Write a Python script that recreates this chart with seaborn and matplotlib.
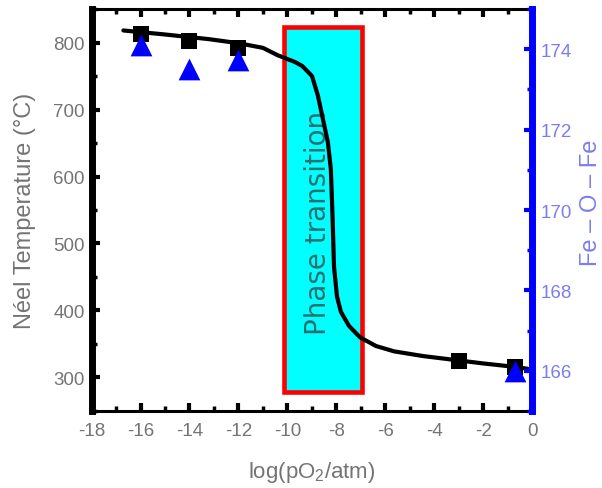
import matplotlib
matplotlib.use("Agg")
import matplotlib.pyplot as plt
import seaborn as sns
import pandas as pd
from matplotlib.patches import Rectangle
from matplotlib.ticker import MultipleLocator

# ---- data ----
pO2_neel = [-16, -14, -12, -3, -0.7]
neel_T = [813, 802, 792, 324, 316]

pO2_angle = [-16, -14, -12, -0.7]
fe_o_fe = [174.1, 173.5, 173.73, 166.0]

fit_x = [-16.7, -15.0, -13.2, -12.0, -11.0, -10.4, -9.7, -9.4, -9.0, -8.76, -8.55,
         -8.35, -8.23, -8.16, -8.10, -7.98, -7.82, -7.49, -7.04, -6.39, -5.65,
         -4.47, -2.02, -0.76, -0.2]
fit_y = [818, 812, 805, 799, 792, 781, 771, 765, 750, 721, 685,
         651, 611, 539, 465, 421, 398, 377, 360, 347, 339,
         332, 321, 316, 313]

box_x = [-10.16, -6.94]
box_y = [279, 823]
box_text = "Phase transition"

x_label = "log(pO$_2$/atm)"
y_label = "Néel Temperature (°C)"
y2_label = "Fe – O – Fe"

sns.set_theme(style="ticks")
plt.rcParams["font.family"] = ["Liberation Sans", "DejaVu Sans"]
plt.rcParams["axes.unicode_minus"] = False
plt.rcParams["mathtext.fontset"] = "custom"
plt.rcParams["mathtext.rm"] = "Liberation Sans"
plt.rcParams["mathtext.it"] = "Liberation Sans:italic"

gray = "#747474"
lblue = "#7c7cf2"

fig = plt.figure(figsize=(6.02, 4.89), dpi=100)
ax = fig.add_axes([0.152, 0.1575, 0.7325, 0.822])
ax2 = ax.twinx()

# phase box
ax.add_patch(Rectangle((box_x[0], box_y[0]), box_x[1] - box_x[0], box_y[1] - box_y[0],
                       facecolor="#00ffff", edgecolor="#ff0000", linewidth=3.3, zorder=1))
ax.text((box_x[0] + box_x[1]) / 2 - 0.2, 532, box_text, rotation=90, ha="center", va="center",
        fontsize=20, color="#2a7070", family="DejaVu Sans", zorder=2)

fit_df = pd.DataFrame({"x": fit_x, "y": fit_y})
sns.lineplot(data=fit_df, x="x", y="y", sort=False, color="black", linewidth=3.0, ax=ax, zorder=3)

neel_df = pd.DataFrame({"x": pO2_neel, "y": neel_T})
sns.scatterplot(data=neel_df, x="x", y="y", marker="s", s=120, color="black",
                edgecolor="black", linewidth=0, ax=ax, zorder=4)

ang_df = pd.DataFrame({"x": pO2_angle, "y": fe_o_fe})
sns.scatterplot(data=ang_df, x="x", y="y", marker="^", s=245, color="#0000ff",
                edgecolor="#0000ff", linewidth=0, ax=ax2, zorder=5)

ax.set_xlim(-18, 0)
ax.set_ylim(250, 850)
ax2.set_ylim(165, 175)

ax.xaxis.set_major_locator(MultipleLocator(2))
ax.xaxis.set_minor_locator(MultipleLocator(1))
ax.yaxis.set_major_locator(MultipleLocator(100))
ax.yaxis.set_minor_locator(MultipleLocator(50))
ax2.yaxis.set_major_locator(MultipleLocator(2))
ax2.yaxis.set_minor_locator(MultipleLocator(1))

ax.set_yticks([300, 400, 500, 600, 700, 800])

ax.tick_params(axis="x", which="both", direction="in", top=True, bottom=True, color="black",
               labelcolor=gray, labelsize=13.5, pad=8)
ax.tick_params(axis="y", which="both", direction="in", left=True, right=False, color="black",
               labelcolor=gray, labelsize=13.5, pad=5)
ax.tick_params(which="major", width=3, length=6)
ax.tick_params(which="minor", width=2.5, length=3.5)
ax2.tick_params(axis="y", which="both", direction="in", right=True, left=False, color="#0000ff",
                labelcolor=lblue, labelsize=13.5, pad=6)
ax2.tick_params(which="major", width=3, length=6)
ax2.tick_params(which="minor", width=2.5, length=3.5)

ax.spines["left"].set_linewidth(5)
for s in ["top", "bottom"]:
    ax.spines[s].set_linewidth(2.2)
    ax.spines[s].set_color("black")
ax.spines["left"].set_color("black")
ax.spines["right"].set_visible(False)
ax2.spines["left"].set_visible(False)
ax2.spines["top"].set_visible(False)
ax2.spines["bottom"].set_visible(False)
ax2.spines["right"].set_linewidth(5)
ax2.spines["right"].set_color("#0000ff")

ax.set_xlabel(x_label, fontsize=16, color=gray, labelpad=14)
ax.set_ylabel(y_label, fontsize=17, color=gray, labelpad=12)
ax2.set_ylabel(y2_label, fontsize=17, color=lblue, rotation=90, va="center", ha="center")
ax2.yaxis.set_label_coords(1.132, 0.521)

fig.savefig("out.png", dpi=100)
